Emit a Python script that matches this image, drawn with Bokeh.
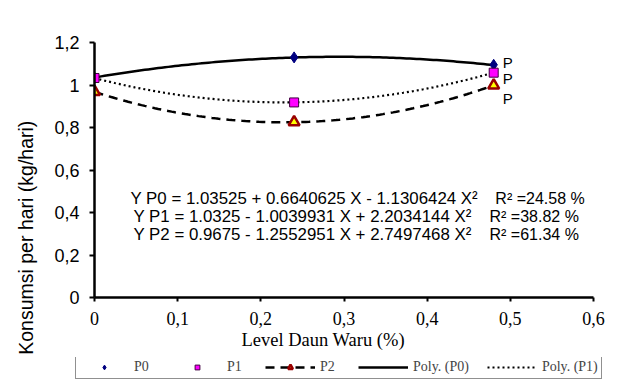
import numpy as np
from bokeh.plotting import figure
from bokeh.layouts import column, row
from bokeh.models import Range1d, FixedTicker, Label, Legend, LegendItem
from bokeh.core.properties import value
from bokeh.embed import file_html
from bokeh.resources import INLINE

# ---- data ----
levels = [0, 0.24, 0.48]
p0_vals = [1.035, 1.13, 1.095]
p1_vals = [1.033, 0.918, 1.058]
p2_vals = [0.968, 0.825, 0.998]

# polynomial trend coefficients (as printed on the chart)
coef_p0 = [1.03525, 0.6640625, -1.1306424]
coef_p1 = [1.0325, -1.0039931, 2.2034144]
coef_p2 = [0.9675, -1.2552951, 2.7497468]

x_ticks = [0, 0.1, 0.2, 0.3, 0.4, 0.5, 0.6]
x_tick_labels = ["0", "0,1", "0,2", "0,3", "0,4", "0,5", "0,6"]
y_ticks = [0, 0.2, 0.4, 0.6, 0.8, 1.0, 1.2]
y_tick_labels = ["0", "0,2", "0,4", "0,6", "0,8", "1", "1,2"]

equations = [
    "Y P0 = 1.03525 + 0.6640625 X  - 1.1306424 X\u00b2",
    "Y P1 = 1.0325 - 1.0039931 X  + 2.2034144 X\u00b2",
    "Y P2 = 0.9675 - 1.2552951 X  + 2.7497468 X\u00b2",
]
r2_texts = ["R\u00b2 =24.58 %", "R\u00b2 =38.82 %", "R\u00b2 =61.34 %"]
legend_labels = ["P0", "P1", "P2", "Poly. (P0)", "Poly. (P1)"]

SANS = "Liberation Sans"
SERIF = "Liberation Serif"
NB = "\u00a0"

p = figure(frame_width=499, frame_height=255, output_backend="svg", toolbar_location=None,
           x_range=Range1d(0, 0.6), y_range=Range1d(0, 1.2),
           min_border_left=94, min_border_right=35, min_border_top=42, min_border_bottom=60)
p.outline_line_color = None
p.grid.visible = False
p.background_fill_color = "white"
p.border_fill_color = "white"

for ax in (p.xaxis[0], p.yaxis[0]):
    ax.axis_line_color = "black"
    ax.axis_line_width = 2.5
    ax.major_tick_line_color = "black"
    ax.major_tick_line_width = 2
    ax.major_tick_in = 0
    ax.minor_tick_line_color = None
    ax.major_label_text_color = "black"
    ax.axis_label_text_color = "black"
    ax.axis_label_text_font_style = "normal"

p.xaxis[0].ticker = FixedTicker(ticks=x_ticks)
p.xaxis[0].major_label_overrides = {t: l for t, l in zip(x_ticks, x_tick_labels)}
p.xaxis[0].major_label_text_font = SERIF
p.xaxis[0].major_label_text_font_size = "18px"
p.xaxis[0].major_tick_out = 4
p.xaxis[0].major_label_standoff = 10
p.xaxis[0].axis_label = "Level Daun Waru (%)" + NB * 9
p.xaxis[0].axis_label_text_font = SERIF
p.xaxis[0].axis_label_text_font_size = "18.5px"
p.xaxis[0].axis_label_standoff = 2

p.yaxis[0].ticker = FixedTicker(ticks=y_ticks)
p.yaxis[0].major_label_overrides = {t: l for t, l in zip(y_ticks, y_tick_labels)}
p.yaxis[0].major_label_text_font = SANS
p.yaxis[0].major_label_text_font_size = "18px"
p.yaxis[0].major_tick_out = 5
p.yaxis[0].major_label_standoff = 10
p.yaxis[0].axis_label = "Konsumsi per hari (kg/hari)" + NB * 25
p.yaxis[0].axis_label_text_font = SANS
p.yaxis[0].axis_label_text_font_size = "19.5px"
p.yaxis[0].axis_label_standoff = 14


def poly(c, x):
    return c[0] + c[1] * x + c[2] * x ** 2


xs = np.linspace(levels[0], levels[-1], 120)

line_styles = [dict(line_color="black", line_width=2.5),
               dict(line_color="black", line_width=2.2, line_dash="2 3"),
               dict(line_color="black", line_width=2.5, line_dash="9 6")]
marker_styles = [dict(marker="diamond", size=11, fill_color="#000080", line_color="#000080"),
                 dict(marker="square", size=9, fill_color="#FF00FF", line_color="#400040", line_width=1),
                 dict(marker="triangle", size=11, fill_color="#FFFF00", line_color="#990000", line_width=2.5)]

for c, st in zip((coef_p0, coef_p1, coef_p2), line_styles):
    p.line(xs, poly(c, xs), **st)
for vals, st in zip((p0_vals, p1_vals, p2_vals), marker_styles):
    p.scatter(levels, vals, **st)

for vals, dy in ((p0_vals, -2), (p1_vals, 6), (p2_vals, 13)):
    p.text(x=[levels[-1]], y=[vals[-1]], text=["P"], x_offset=9, y_offset=dy,
           text_font=value(SANS), text_font_size="15px", text_baseline="middle",
           text_color="black")

eq_x = [0.0433, 0.0469, 0.0469]
r2_x = [0.482, 0.475, 0.475]
eq_y = [0.465, 0.382, 0.296]
for t, r, ex, rx, ey in zip(equations, r2_texts, eq_x, r2_x, eq_y):
    p.add_layout(Label(x=ex, y=ey, text=t, text_font=SANS, text_font_size="16.85px",
                       text_baseline="alphabetic", text_color="black"))
    p.add_layout(Label(x=rx, y=ey, text=r, text_font=SANS, text_font_size="16px",
                       text_baseline="alphabetic", text_color="black"))

# ---- legend strip below the chart (legend glyphs only; data kept out of view) ----
lf = figure(width=628, height=24, output_backend="svg", toolbar_location=None,
            x_range=Range1d(0, 0.6), y_range=Range1d(5, 6),
            x_axis_type=None, y_axis_type=None,
            min_border_left=0, min_border_right=0, min_border_top=0, min_border_bottom=0)
lf.outline_line_color = None
lf.grid.visible = False
lf.border_fill_color = "white"

g0 = lf.scatter(levels, p0_vals, **marker_styles[0])
g1 = lf.scatter(levels, p1_vals, **marker_styles[1])
g2l = lf.line(xs, poly(coef_p2, xs), **line_styles[2])
g2 = lf.scatter(levels, p2_vals, **marker_styles[2])
gl0 = lf.line(xs, poly(coef_p0, xs), **line_styles[0])
gl1 = lf.line(xs, poly(coef_p1, xs), **line_styles[1])

legend = Legend(items=[
    LegendItem(label=legend_labels[0], renderers=[g0]),
    LegendItem(label=legend_labels[1], renderers=[g1]),
    LegendItem(label=legend_labels[2], renderers=[g2l, g2]),
    LegendItem(label=legend_labels[3], renderers=[gl0]),
    LegendItem(label=legend_labels[4], renderers=[gl1]),
], orientation="horizontal", location=(75, 2), glyph_width=50, glyph_height=12,
    label_height=12, label_standoff=5, spacing=18, padding=3, margin=0,
    label_text_font=SERIF, label_text_font_size="14px",
    border_line_color="#222222", border_line_width=1.5, background_fill_alpha=1.0)
lf.add_layout(legend)

layout = column(p, row(lf), spacing=0)
open("out.html", "w").write(file_html(layout, INLINE))
